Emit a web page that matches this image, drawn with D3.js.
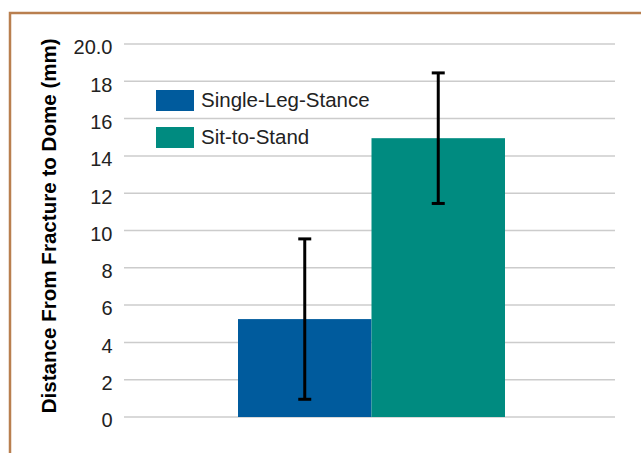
<!DOCTYPE html>
<html><head><meta charset="utf-8">
<script src="https://cdn.jsdelivr.net/npm/d3@7"></script>
<style>body{margin:0;background:#fff;}svg{display:block;font-family:"Liberation Sans",Arial,sans-serif;}</style>
</head><body>
<script>
const series = ["Single-Leg-Stance", "Sit-to-Stand"];
const means = [5.25, 14.95];
const errors = [4.3, 3.5];
const colors = ["#005b9d", "#008b80"];
const tickValues = [0, 2, 4, 6, 8, 10, 12, 14, 16, 18, 20];
const tickLabels = ["0", "2", "4", "6", "8", "10", "12", "14", "16", "18", "20.0"];
const yTitle = "Distance From Fracture to Dome (mm)";

(function () {
const W = 641, H = 453;
const svg = d3.select("body").append("svg").attr("width", W).attr("height", H);

// frame
svg.append("rect").attr("x", 10).attr("y", 13).attr("width", W + 10).attr("height", H + 10)
  .attr("fill", "none").attr("stroke", "#b97f4f").attr("stroke-width", 2.5);

const pL = 124, pR = 615, pT = 44, pB = 417;
const y = d3.scaleLinear().domain([0, 20]).range([pB, pT]);
const x = d3.scaleBand().domain(series).range([238, 505]).padding(0);

// grid
svg.append("g").selectAll("line").data(tickValues).join("line")
  .attr("x1", pL).attr("x2", pR)
  .attr("y1", d => y(d)).attr("y2", d => y(d))
  .attr("stroke", "#cccccc").attr("stroke-width", 1.5);

// axis labels
const yAxis = d3.axisLeft(y).tickValues(tickValues).tickFormat((d, i) => tickLabels[i]).tickSize(0).tickPadding(0);
const ga = svg.append("g").attr("transform", `translate(112.5,0)`).call(yAxis);
ga.select(".domain").remove();
ga.selectAll("text").attr("font-size", 20).attr("fill", "#222").attr("dy", "0.49em")
  .style("font-family", "'Liberation Sans',Arial,sans-serif");

// bars
svg.append("g").selectAll("rect").data(series).join("rect")
  .attr("x", d => x(d)).attr("width", x.bandwidth())
  .attr("y", (d, i) => y(means[i])).attr("height", (d, i) => y(0) - y(means[i]))
  .attr("fill", (d, i) => colors[i]);

// error bars
const eg = svg.append("g").attr("stroke", "#000").attr("stroke-width", 3);
series.forEach((s, i) => {
  const cx = x(s) + x.bandwidth() / 2;
  const hi = y(means[i] + errors[i]), lo = y(means[i] - errors[i]);
  eg.append("line").attr("x1", cx).attr("x2", cx).attr("y1", hi).attr("y2", lo);
  eg.append("line").attr("x1", cx - 6.5).attr("x2", cx + 6.5).attr("y1", hi).attr("y2", hi);
  eg.append("line").attr("x1", cx - 6.5).attr("x2", cx + 6.5).attr("y1", lo).attr("y2", lo);
});

// legend
const lg = svg.append("g");
series.forEach((s, i) => {
  const yy = 90 + i * 37;
  lg.append("rect").attr("x", 156).attr("y", yy).attr("width", 38).attr("height", 21).attr("fill", colors[i]);
  lg.append("text").attr("x", 201).attr("y", yy + 10.5).attr("dy", "0.3em")
    .attr("font-size", 20.5).attr("fill", "#222").text(s);
});

// y title
svg.append("text").attr("transform", `translate(55.5,225.8) rotate(-90)`)
  .attr("text-anchor", "middle").attr("font-size", 19.5).attr("font-weight", "bold").attr("fill", "#000")
  .attr("textLength", 375).attr("lengthAdjust", "spacingAndGlyphs")
  .text(yTitle);
})();
</script>
</body></html>
